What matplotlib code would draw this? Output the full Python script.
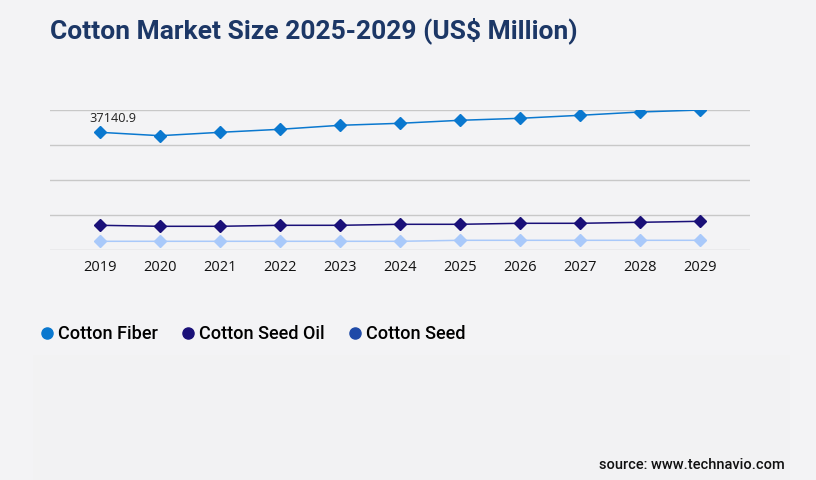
import matplotlib.pyplot as plt
from matplotlib.lines import Line2D
from matplotlib.patches import Rectangle

# chart data
years = ['2019', '2020', '2021', '2022', '2023', '2024', '2025', '2026', '2027', '2028', '2029']
cotton_fiber = [37140.9, 36073, 37141, 38093, 39355, 39986, 40933, 41564, 42511, 43553, 44184]
cotton_seed_oil = [7795, 7480, 7480, 7795, 7795, 8111, 8111, 8427, 8427, 8742, 9058]
cotton_seed = [2746, 2746, 2746, 2746, 2746, 2746, 3061, 3061, 3061, 3061, 3061]
grid_vals = [0, 11046, 22092, 33138, 44184]

bg = '#f3f3f5'
fig = plt.figure(figsize=(8.16, 4.8), dpi=100, facecolor=bg)

# faint lower panel
fig.patches.append(Rectangle((33 / 816, 0), 757 / 816, 125 / 480, transform=fig.transFigure,
                             facecolor='#f2f2f3', edgecolor='none', zorder=0))

# axes: x 50..750 px, y 110..250 px
ax = fig.add_axes([50 / 816, (480 - 250) / 480, 700 / 816, 140 / 480])
ax.set_facecolor('none')

x = list(range(len(years)))
ax.plot(x, cotton_fiber, color='#0a78cf', lw=1.1, marker='D', ms=6.5, zorder=3)
ax.plot(x, cotton_seed_oil, color='#1a1078', lw=1.1, marker='D', ms=6.5, zorder=3)
ax.plot(x, cotton_seed, color='#a9c9fa', lw=1.1, marker='D', ms=6.5, zorder=3)

ax.set_xlim(-0.833, 10.833)
ax.set_ylim(0, 44184)
ax.set_yticks(grid_vals)
ax.set_yticklabels([])
ax.grid(axis='y', color='#c8c8c8', lw=1)
ax.tick_params(axis='y', length=0)
ax.tick_params(axis='x', length=0, pad=7, labelsize=10.5)
ax.set_xticks(x)
ax.set_xticklabels(years, family='Open Sans', color='#111111')
for s in ax.spines.values():
    s.set_visible(False)

ax.annotate(f'{cotton_fiber[0]:.1f}', (0, cotton_fiber[0]), xytext=(-7.5, 5),
            textcoords='offset points', fontsize=9.2, family='Open Sans', color='#222222',
            ha='left', va='bottom')

fig.text(50 / 816, 1 - 31 / 480, 'Cotton Market Size 2025-2029 (US$ Million)',
         family='Roboto', weight='bold', fontsize=19,
         color='#1c3766', va='center', ha='left')

handles = [
    Line2D([], [], ls='none', marker='o', ms=8, color='#0a78cf'),
    Line2D([], [], ls='none', marker='o', ms=8, color='#1a1078'),
    Line2D([], [], ls='none', marker='o', ms=8, color='#1f4aa8'),
]
leg = fig.legend(handles, ['Cotton Fiber', 'Cotton Seed Oil', 'Cotton Seed'],
                 loc='center left', bbox_to_anchor=(25 / 816, 1 - 334 / 480), ncol=3,
                 frameon=False, handlelength=0.6, handletextpad=0.3, columnspacing=1.4,
                 prop={'family': 'Roboto', 'size': 13, 'weight': 'medium'})

fig.text(785 / 816, 1 - 465 / 480, 'source: www.technavio.com', family='Roboto',
         weight='medium', fontsize=10.5, color='#111111', ha='right', va='center')

fig.savefig('out.png', dpi=100, facecolor=bg)
